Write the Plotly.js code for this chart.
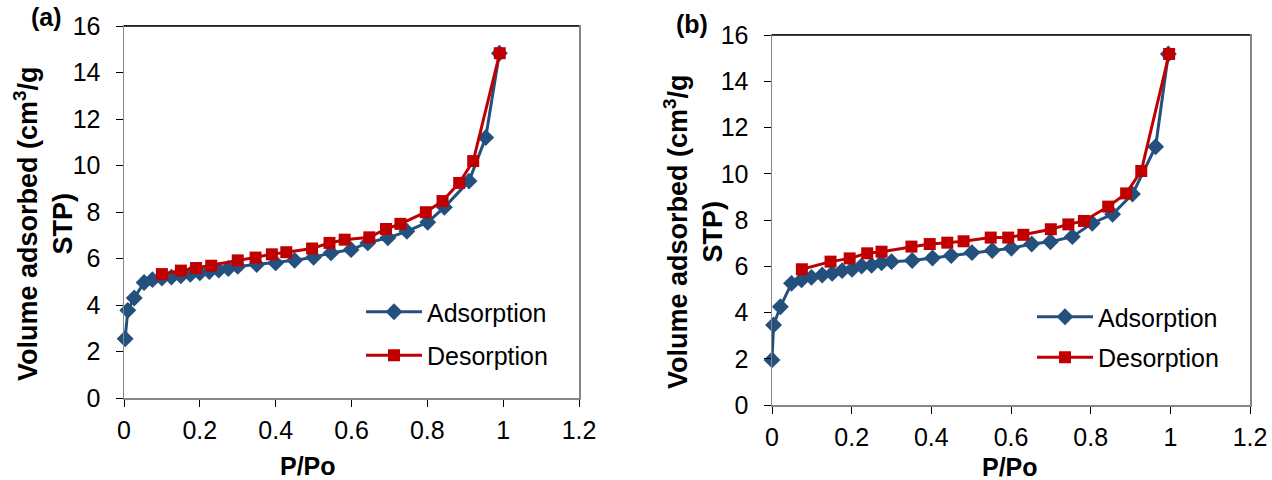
<!DOCTYPE html>
<html>
<head>
<meta charset="utf-8">
<script src="https://cdn.plot.ly/plotly-3.0.1.min.js"></script>
<style>html,body{margin:0;padding:0;background:#fff;}#chart{width:1272px;height:480px;}</style>
</head>
<body>
<div id="chart"></div>
<script>
// ---- Data ----
const seriesNames = ["Adsorption", "Desorption"];
const panelLabels = ["(a)", "(b)"];
const xTitle = "P/Po";
const yTitle = "Volume adsorbed (cm<sup>3</sup>/g<br>STP)";
const xTickVals = [0, 0.2, 0.4, 0.6, 0.8, 1, 1.2];
const xTickText = ["0", "0.2", "0.4", "0.6", "0.8", "1", "1.2"];
const yTickVals = [0, 2, 4, 6, 8, 10, 12, 14, 16];
const yTickText = ["0", "2", "4", "6", "8", "10", "12", "14", "16"];

// Panel (a)
const pA_ads = [0.003, 0.01, 0.027, 0.053, 0.075, 0.10, 0.125, 0.15, 0.175, 0.20, 0.225, 0.25, 0.275, 0.30, 0.35, 0.40, 0.45, 0.50, 0.546, 0.599, 0.643, 0.696, 0.746, 0.801, 0.845, 0.91, 0.954, 0.99];
const vA_ads = [2.55, 3.77, 4.30, 4.97, 5.09, 5.16, 5.20, 5.26, 5.32, 5.38, 5.44, 5.50, 5.57, 5.66, 5.74, 5.81, 5.92, 6.05, 6.24, 6.38, 6.67, 6.89, 7.17, 7.56, 8.20, 9.33, 11.20, 14.83];
const pA_des = [0.10, 0.15, 0.19, 0.23, 0.30, 0.347, 0.39, 0.428, 0.496, 0.542, 0.582, 0.647, 0.691, 0.729, 0.796, 0.84, 0.884, 0.921, 0.991];
const vA_des = [5.33, 5.48, 5.59, 5.69, 5.92, 6.04, 6.18, 6.27, 6.43, 6.67, 6.81, 6.91, 7.27, 7.49, 7.99, 8.47, 9.25, 10.19, 14.83];

// Panel (b)
const pB_ads = [0.0, 0.004, 0.021, 0.049, 0.074, 0.099, 0.126, 0.151, 0.176, 0.201, 0.225, 0.25, 0.275, 0.30, 0.352, 0.403, 0.45, 0.502, 0.553, 0.601, 0.652, 0.699, 0.754, 0.804, 0.855, 0.905, 0.963, 0.995];
const vB_ads = [1.95, 3.46, 4.25, 5.26, 5.41, 5.52, 5.62, 5.69, 5.81, 5.87, 6.01, 6.04, 6.15, 6.20, 6.25, 6.36, 6.46, 6.59, 6.68, 6.78, 6.96, 7.06, 7.28, 7.86, 8.25, 9.12, 11.17, 15.18];
const pB_des = [0.075, 0.147, 0.195, 0.239, 0.275, 0.35, 0.396, 0.44, 0.481, 0.549, 0.593, 0.631, 0.70, 0.744, 0.783, 0.844, 0.889, 0.927, 0.997];
const vB_des = [5.87, 6.20, 6.34, 6.56, 6.63, 6.85, 6.96, 7.02, 7.08, 7.24, 7.24, 7.36, 7.60, 7.81, 7.96, 8.58, 9.15, 10.12, 15.18];

// ---- Styles ----
const FONT = "Arial, 'Liberation Sans', sans-serif";
const BLUE = "#24507e";
const RED = "#c00000";
const AXIS_GRAY = "#868686";
const FS = 25;

function adsTrace(x, y, xa, ya, leg) {
  return {x: x, y: y, xaxis: xa, yaxis: ya, type: "scatter", mode: "lines+markers",
    name: seriesNames[0], legend: leg, legendgroup: leg + "ads",
    line: {color: BLUE, width: 3}, marker: {symbol: "diamond", size: 13, color: BLUE},
    cliponaxis: false};
}
function desTrace(x, y, xa, ya, leg) {
  return {x: x, y: y, xaxis: xa, yaxis: ya, type: "scatter", mode: "lines+markers",
    name: seriesNames[1], legend: leg, legendgroup: leg + "des",
    line: {color: RED, width: 3}, marker: {symbol: "square", size: 12, color: RED},
    cliponaxis: false};
}

const data = [
  adsTrace(pA_ads, vA_ads, "x", "y", "legend"),
  desTrace(pA_des, vA_des, "x", "y", "legend"),
  adsTrace(pB_ads, vB_ads, "x2", "y2", "legend2"),
  desTrace(pB_des, vB_des, "x2", "y2", "legend2")
];

function xAxis(domain, anchor) {
  return {domain: domain, anchor: anchor, range: [0, 1.2], tickmode: "array",
    tickvals: xTickVals, ticktext: xTickText, ticks: "outside", ticklen: 7, tickcolor: "#000",
    tickwidth: 1, showline: true, linecolor: AXIS_GRAY, linewidth: 1.5, mirror: true,
    showgrid: false, zeroline: false, tickfont: {family: FONT, size: FS, color: "#000"},
    ticklabelstandoff: 2, fixedrange: true};
}
function yAxis(domain, anchor) {
  return {domain: domain, anchor: anchor, range: [0, 16], tickmode: "array",
    tickvals: yTickVals, ticktext: yTickText, ticks: "outside", ticklen: 7, tickcolor: "#000",
    tickwidth: 1, showline: true, linecolor: AXIS_GRAY, linewidth: 1.5, mirror: true,
    showgrid: false, zeroline: false, tickfont: {family: FONT, size: FS, color: "#000"},
    ticklabelstandoff: 10, fixedrange: true};
}

const W = 1272, H = 480;
function ann(text, px, py, angle, size) {
  return {text: text, xref: "paper", yref: "paper", x: px / W, y: 1 - py / H,
    xanchor: "center", yanchor: "middle", textangle: angle || 0,
    showarrow: false, font: {family: FONT, size: size || FS, color: "#000"}};
}
const layout = {
  width: W, height: H,
  margin: {l: 0, r: 0, t: 0, b: 0},
  paper_bgcolor: "#fff", plot_bgcolor: "#fff",
  font: {family: FONT, color: "#000"},
  xaxis: xAxis([124 / W, 579 / W], "y"),
  yaxis: yAxis([1 - 398 / H, 1 - 26 / H], "x"),
  xaxis2: xAxis([772 / W, 1250 / W], "y2"),
  yaxis2: yAxis([1 - 405 / H, 1 - 35 / H], "x2"),
  legend: {x: 361 / W, y: 1 - 289 / H, xanchor: "left", yanchor: "top",
    bgcolor: "rgba(0,0,0,0)", font: {family: FONT, size: FS, color: "#000"},
    tracegroupgap: 8, itemwidth: 56},
  legend2: {x: 1032 / W, y: 1 - 294 / H, xanchor: "left", yanchor: "top",
    bgcolor: "rgba(0,0,0,0)", font: {family: FONT, size: FS, color: "#000"},
    tracegroupgap: 5, itemwidth: 56},
  shapes: [
    {type: "line", xref: "x domain", yref: "y domain", x0: 0, x1: 1, y0: 1, y1: 1, line: {color: "#000", width: 1.5}},
    {type: "line", xref: "x2 domain", yref: "y2 domain", x0: 0, x1: 1, y0: 1, y1: 1, line: {color: "#000", width: 1.5}}
  ],
  annotations: [
    ann("<b>" + panelLabels[0] + "</b>", 46, 17),
    ann("<b>" + panelLabels[1] + "</b>", 692, 24),
    ann("<b>" + yTitle + "</b>", 43, 224, -90, 27),
    ann("<b>" + yTitle + "</b>", 693, 232, -90, 27),
    ann("<b>" + xTitle + "</b>", 308, 466),
    ann("<b>" + xTitle + "</b>", 1010, 467)
  ]
};

Plotly.newPlot("chart", data, layout, {displayModeBar: false, staticPlot: true});
</script>
</body>
</html>
